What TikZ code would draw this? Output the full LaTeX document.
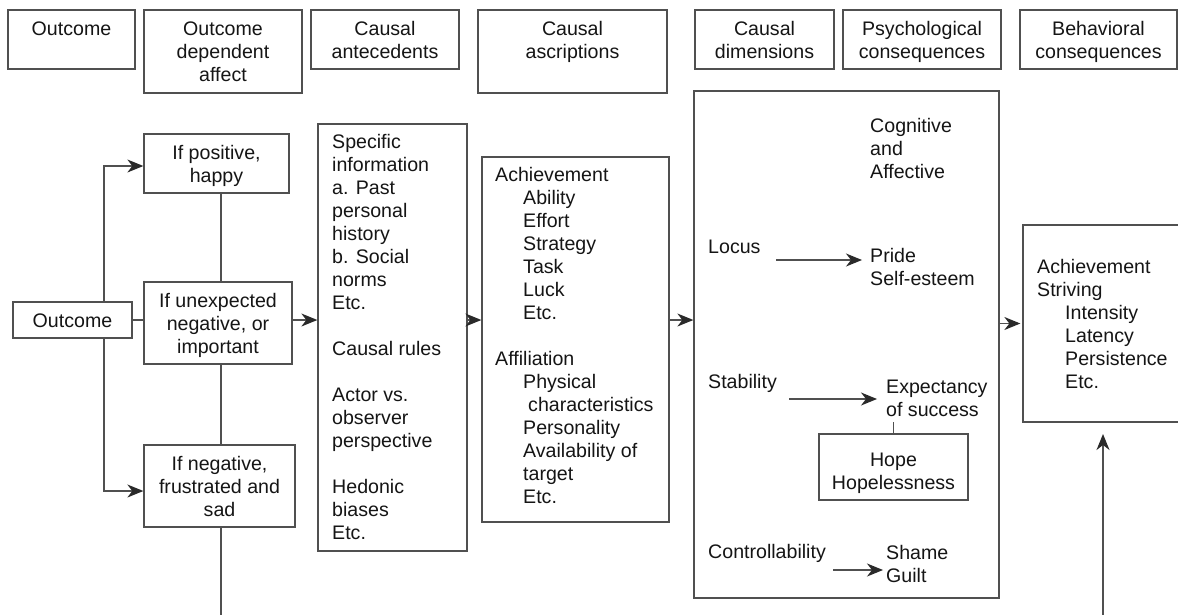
\documentclass[tikz,border=0pt]{standalone}
\usepackage{fontspec}
\setmainfont{Liberation Sans}
\usetikzlibrary{arrows.meta}
\definecolor{tcol}{HTML}{151515}
\definecolor{lcol}{HTML}{505050}
\definecolor{acol}{HTML}{2A2A2A}
\newcommand\dfont{\fontsize{19.6}{23}\selectfont}
\newcommand\tstr{\rule{0pt}{14.5pt}}
\newcommand\ind{\hspace*{28pt}}
\begin{document}
\begin{tikzpicture}[x=1pt,y=-1pt,
  bx/.style={draw=lcol, line width=1.3pt, inner sep=0pt, align=center, font=\dfont, text=tcol},
  bigbox/.style={draw=lcol, line width=1.3pt, inner sep=0pt},
  txt/.style={inner sep=0pt, anchor=north west, align=left, font=\dfont, text=tcol},
  ln/.style={draw=lcol, line width=1.3pt},
  arr/.style={ln, -{Stealth[length=16pt,width=13pt,inset=5pt,color=acol]}},
]
\useasboundingbox[fill=white] (0,0) rectangle (1178,614);

% header boxes
\node[bx, minimum width=127pt, minimum height=59pt] (h1) at (71.5,39.5) {\tstr Outcome\\\smash{\mbox{}}};
\node[bx, minimum width=158pt, minimum height=83pt] (h2) at (223,51.5) {\tstr Outcome\\dependent\\\smash{affect}};
\node[bx, minimum width=148pt, minimum height=59pt] (h3) at (385,39.5) {\tstr Causal\\\smash{antecedents}};
\node[bx, minimum width=189pt, minimum height=83pt] (h4) at (572.5,51.5) {\tstr Causal\\ascriptions\\\smash{\mbox{}}};
\node[bx, minimum width=139pt, minimum height=59pt] (h5) at (764.5,39.5) {\tstr Causal\\\smash{dimensions}};
\node[bx, minimum width=158pt, minimum height=59pt] (h6) at (922,39.5) {\tstr Psychological\\\smash{consequences}};
\node[bx, minimum width=157pt, minimum height=59pt] (h7) at (1098.5,39.5) {\tstr Behavioral\\\smash{consequences}};

% left column
\node[bx, minimum width=119pt, minimum height=36pt] (outc) at (72.5,320) {\tstr\smash{Outcome}};
\node[bx, minimum width=145pt, minimum height=59pt] (pos) at (216.5,163.5) {\tstr If positive,\\\smash{happy}};
\node[bx, minimum width=148pt, minimum height=82pt] (unexp) at (218,323) {\tstr If unexpected\\negative, or\\\smash{important}};
\node[bx, minimum width=151pt, minimum height=82pt] (neg) at (219.5,486) {\tstr If negative,\\frustrated and\\\smash{sad}};

% big boxes
\node[bigbox, minimum width=149pt, minimum height=427pt] (ante) at (392.5,337.5) {};
\node[bigbox, minimum width=187pt, minimum height=365pt] (ascr) at (575.5,339.5) {};
\node[bigbox, minimum width=305pt, minimum height=507pt] (dim) at (846.5,344.5) {};
\node[bigbox, minimum width=162pt, minimum height=197pt] (beh) at (1104,323.5) {};
\node[bx, minimum width=149pt, minimum height=66pt] (hope) at (893.5,467) {\rule{0pt}{22.5pt}Hope\\\smash{Hopelessness}};

% texts
\node[txt] (antetxt) at (332,134) {\tstr Specific\\information\\a. Past\\personal\\history\\b. Social\\norms\\Etc.\\[23pt]Causal rules\\[23pt]Actor vs.\\observer\\perspective\\[23pt]Hedonic\\biases\\Etc.};
\node[txt] (ascrtxt) at (495,167) {\tstr Achievement\\\ind Ability\\\ind Effort\\\ind Strategy\\\ind Task\\\ind Luck\\\ind Etc.\\[23pt]Affiliation\\\ind Physical\\\hspace*{33pt}characteristics\\\ind Personality\\\ind Availability of\\\ind target\\\ind Etc.};
\node[txt] (cog) at (870,118) {\tstr Cognitive\\and\\Affective};
\node[txt] (locus) at (708,239) {\tstr Locus};
\node[txt] (pride) at (870,248) {\tstr Pride\\Self-esteem};
\node[txt] (stab) at (708,374) {\tstr Stability};
\node[txt] (expt) at (886,379) {\tstr Expectancy\\of success};
\node[txt] (ctrl) at (708,544) {\tstr Controllability};
\node[txt] (shame) at (886,545) {\tstr Shame\\Guilt};
\node[txt] (achv) at (1037,259) {\tstr Achievement\\Striving\\\ind Intensity\\\ind Latency\\\ind Persistence\\\ind Etc.};

% coordinates
\coordinate (vx) at (104,0);
\coordinate (vl) at (221,0);
\coordinate (pa) at (0,166);
\coordinate (na) at (0,491);
\coordinate (nb) at (221,616);
\coordinate (ub) at (1103,616);
\coordinate (ut) at (1103,434);

% connectors left
\draw[arr] (outc.north -| vx) |- (pos.west |- pa);
\draw[arr] (outc.south -| vx) |- (neg.west |- na);
\draw[ln] (outc.east) -- (outc.east -| unexp.west);
\draw[ln] (pos.south -| vl) -- (unexp.north -| vl);
\draw[ln] (unexp.south -| vl) -- (neg.north -| vl);
\draw[ln] (neg.south -| vl) -- (nb);

% main flow
\draw[arr] (unexp.east |- outc.east) -- (ante.west |- outc.east);
\draw[arr] (ante.east |- outc.east) -- (ascr.west |- outc.east);
\draw[arr] (ascr.east |- outc.east) -- (dim.west |- outc.east);
\draw[arr, shorten >=2pt] (dim.east |- beh.west) -- (beh.west);
\draw[arr] (ub) -- (ut);

% inside dimensions
\draw[arr] ([xshift=68pt]locus.west |- 0,260) -- ([xshift=-8pt]pride.west |- 0,260);
\draw[arr] ([xshift=81pt]stab.west |- 0,399) -- ([xshift=-9pt]expt.west |- 0,399);
\draw[arr] ([xshift=125pt]ctrl.west |- 0,570) -- ([xshift=-3pt]shame.west |- 0,570);
\draw[ln] (hope.north) -- ++(0,-11);
\end{tikzpicture}
\end{document}
